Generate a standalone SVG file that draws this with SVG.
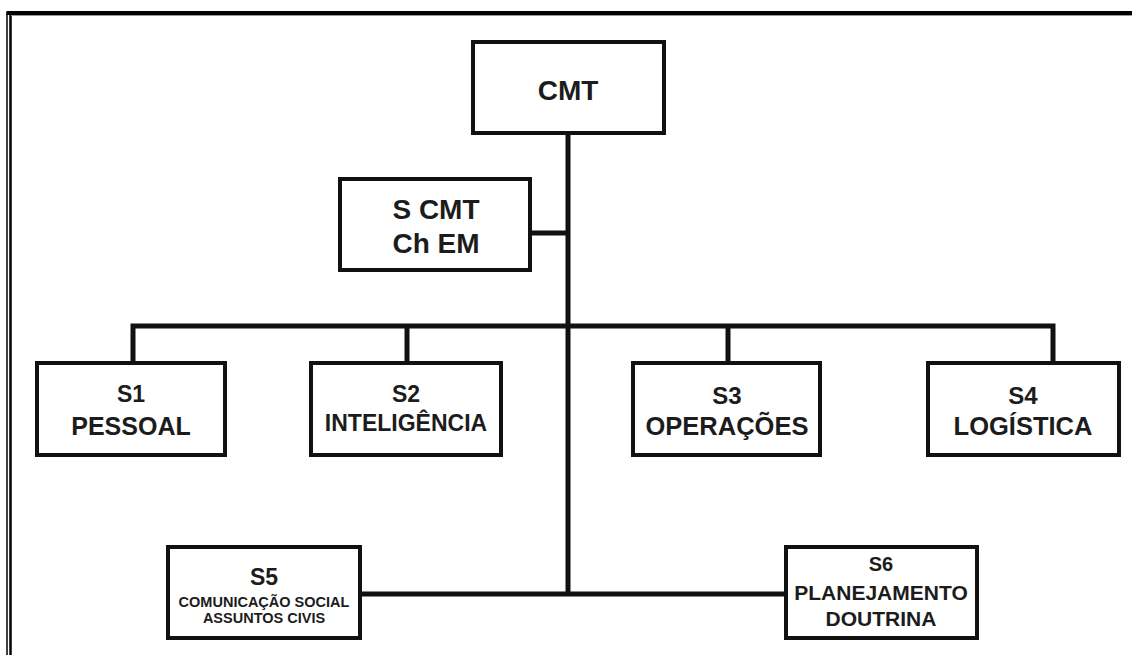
<svg xmlns="http://www.w3.org/2000/svg" width="1132" height="655" viewBox="0 0 1132 655">
<style>
.box{fill:#fff;stroke:#111;stroke-width:4}
.con{fill:none;stroke:#111;stroke-width:5;stroke-linejoin:miter;stroke-linecap:butt}
text{font-family:"Liberation Sans",Arial,sans-serif;font-weight:bold;fill:#1c1c1c;text-anchor:middle}
.frame{fill:none;stroke:#000}
</style>
<rect width="1132" height="655" fill="#fff"/>
<g id="frame">
<line class="frame" x1="7" y1="12" x2="7" y2="655" stroke-width="1.5"/>
<line class="frame" x1="10.5" y1="14" x2="10.5" y2="655" stroke-width="2.5"/>
<line class="frame" x1="6.5" y1="13" x2="1132" y2="13" stroke-width="4"/>
<line x1="11" y1="15.5" x2="1132" y2="15.5" stroke="#999" stroke-width="1"/>
</g>
<g id="connectors">
<path class="con" d="M568,133 V594"/>
<path class="con" d="M530,233 H568"/>
<path class="con" d="M133,363 V326 H1053 V363"/>
<path class="con" d="M407,326 V363"/>
<path class="con" d="M728,326 V363"/>
<path class="con" d="M360,594 H786"/>
</g>
<g id="cmt">
<rect class="box" x="473" y="42" width="191" height="91"/>
<text x="568" y="100" font-size="28">CMT</text>
</g>
<g id="scmt">
<rect class="box" x="340" y="179" width="190" height="91"/>
<text x="436" y="219" font-size="28">S CMT</text>
<text x="436" y="253" font-size="28">Ch EM</text>
</g>
<g id="s1">
<rect class="box" x="37" y="363" width="188" height="92"/>
<text x="131" y="402" font-size="23">S1</text>
<text x="131" y="435" font-size="25">PESSOAL</text>
</g>
<g id="s2">
<rect class="box" x="311" y="363" width="190" height="92"/>
<text x="406" y="402" font-size="23">S2</text>
<text x="406" y="431" font-size="23">INTELIGÊNCIA</text>
</g>
<g id="s3">
<rect class="box" x="633" y="363" width="187" height="92"/>
<text x="727" y="404" font-size="24">S3</text>
<text x="727" y="435" font-size="25.5">OPERAÇÕES</text>
</g>
<g id="s4">
<rect class="box" x="928" y="363" width="191" height="92"/>
<text x="1023" y="404" font-size="24">S4</text>
<text x="1023" y="435" font-size="25.5">LOGÍSTICA</text>
</g>
<g id="s5">
<rect class="box" x="168" y="547" width="192" height="91"/>
<text x="264" y="585" font-size="23">S5</text>
<text x="264" y="607" font-size="14.5">COMUNICAÇÃO SOCIAL</text>
<text x="264" y="623" font-size="14.5">ASSUNTOS CIVIS</text>
</g>
<g id="s6">
<rect class="box" x="786" y="547" width="191" height="91"/>
<text x="881" y="571" font-size="20">S6</text>
<text x="881" y="600" font-size="21">PLANEJAMENTO</text>
<text x="881" y="626" font-size="21">DOUTRINA</text>
</g>
</svg>
